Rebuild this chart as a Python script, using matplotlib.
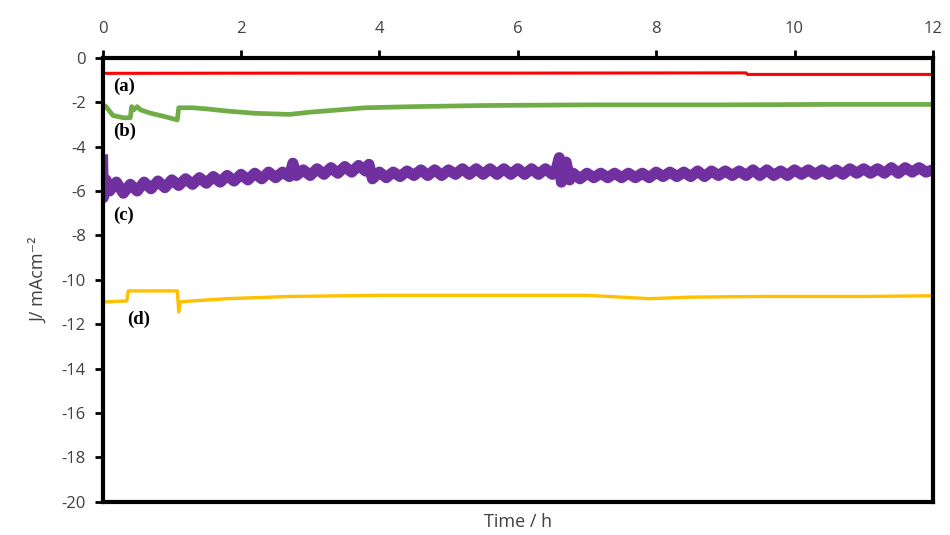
import matplotlib
matplotlib.use('Agg')
import matplotlib.pyplot as plt

plt.rcParams['font.family'] = ['Open Sans', 'DejaVu Sans']
plt.rcParams['axes.unicode_minus'] = False

# (a) red
red_t = [0.0, 3.0, 6.0, 9.3, 9.32, 12.0]
red_j = [-0.70, -0.69, -0.69, -0.68, -0.75, -0.75]

# (b) green
green_t = [0.0, 0.05, 0.15, 0.3, 0.4, 0.42, 0.45, 0.5, 0.55, 0.7, 0.9, 1.08, 1.1, 1.3, 1.5,
           1.8, 2.2, 2.7, 3.0, 3.4, 3.8, 4.5, 5.5, 7.0, 9.0, 10.5, 12.0]
green_j = [-2.1, -2.2, -2.6, -2.7, -2.7, -2.2, -2.35, -2.2, -2.35, -2.5, -2.65, -2.8, -2.25,
           -2.25, -2.3, -2.4, -2.5, -2.55, -2.45, -2.35, -2.25, -2.2, -2.15, -2.12, -2.12, -2.1, -2.1]

# (c) purple, noisy
purple_t = [0.0, 0.01, 0.05, 0.1, 0.2, 0.3, 0.4, 0.5, 0.6, 0.7, 0.8, 0.9, 1.0, 1.1, 1.2, 1.3,
            1.4, 1.5, 1.6, 1.7, 1.8, 1.9, 2.0, 2.1, 2.2, 2.3, 2.4, 2.5, 2.6, 2.7, 2.75, 2.8,
            2.9, 3.0, 3.1, 3.2, 3.3, 3.4, 3.5, 3.6, 3.7, 3.8, 3.85, 3.9, 4.0, 4.1, 4.2, 4.3,
            4.4, 4.5, 4.6, 4.7, 4.8, 4.9, 5.0, 5.1, 5.2, 5.3, 5.4, 5.5, 5.6, 5.7, 5.8, 5.9,
            6.0, 6.1, 6.2, 6.3, 6.4, 6.5, 6.55, 6.6, 6.63, 6.7, 6.75, 6.8, 6.9, 7.0, 7.1, 7.2,
            7.3, 7.4, 7.5, 7.6, 7.7, 7.8, 7.9, 8.0, 8.1, 8.2, 8.3, 8.4, 8.5, 8.6, 8.7, 8.8,
            8.9, 9.0, 9.1, 9.2, 9.3, 9.4, 9.5, 9.6, 9.7, 9.8, 9.9, 10.0, 10.1, 10.2, 10.3, 10.4,
            10.5, 10.6, 10.7, 10.8, 10.9, 11.0, 11.1, 11.2, 11.3, 11.4, 11.5, 11.6, 11.7, 11.8,
            11.9, 12.0]
purple_j = [-4.6, -6.3, -5.5, -6.0, -5.6, -6.1, -5.7, -6.0, -5.6, -5.9, -5.55, -5.85, -5.5, -5.75, -5.45, -5.7,
            -5.4, -5.65, -5.35, -5.6, -5.3, -5.55, -5.25, -5.5, -5.2, -5.45, -5.15, -5.4, -5.15, -5.35, -4.75, -5.3,
            -5.05, -5.3, -5.0, -5.25, -4.95, -5.2, -4.9, -5.15, -4.85, -5.1, -4.8, -5.45, -5.15, -5.4, -5.15, -5.35,
            -5.1, -5.3, -5.05, -5.3, -5.05, -5.3, -5.05, -5.25, -5.0, -5.25, -5.0, -5.25, -5.0, -5.25, -5.0, -5.25,
            -5.0, -5.25, -5.0, -5.25, -5.0, -5.25, -5.1, -4.5, -5.6, -4.7, -5.5, -5.2, -5.45, -5.2, -5.4, -5.2,
            -5.4, -5.2, -5.4, -5.2, -5.4, -5.2, -5.4, -5.15, -5.35, -5.15, -5.35, -5.15, -5.35, -5.1, -5.35, -5.1,
            -5.3, -5.1, -5.3, -5.1, -5.3, -5.05, -5.3, -5.05, -5.3, -5.1, -5.3, -5.05, -5.25, -5.05, -5.25, -5.05,
            -5.25, -5.05, -5.25, -5.0, -5.2, -5.0, -5.2, -5.0, -5.2, -4.95, -5.2, -4.95, -5.15, -4.95,
            -5.15, -5.05]

# (d) yellow
yellow_t = [0.0, 0.35, 0.37, 1.08, 1.1, 1.12, 1.3, 1.8, 2.7, 4.0, 5.5, 7.0, 7.5, 7.9, 8.5,
            9.5, 11.0, 12.0]
yellow_j = [-11.0, -10.95, -10.5, -10.5, -11.45, -11.0, -10.95, -10.85, -10.75, -10.7, -10.7,
            -10.7, -10.78, -10.85, -10.78, -10.75, -10.75, -10.72]

labels = ['(a)', '(b)', '(c)', '(d)']
label_t = [0.15, 0.15, 0.15, 0.35]
label_j = [-1.3, -3.3, -7.1, -11.8]

fig = plt.figure(figsize=(9.5, 5.35), dpi=100)
ax = fig.add_axes([0.108, 0.062, 0.874, 0.830])

ax.plot(red_t, red_j, color='#FF0000', lw=2.2)
ax.plot(green_t, green_j, color='#70AD47', lw=3.4)
ax.plot(purple_t, purple_j, color='#7030A0', lw=8)
ax.plot(yellow_t, yellow_j, color='#FFC000', lw=2.4)

for lab, tx, ty in zip(labels, label_t, label_j):
    ax.text(tx, ty, lab, fontsize=13.5, fontweight='bold', family='Liberation Serif',
            ha='left', va='center', color='black')

ax.set_xlim(0, 12)
ax.set_ylim(-20, 0)
ax.set_xticks(range(0, 13, 2))
ax.set_yticks(range(-20, 1, 2))
ax.xaxis.tick_top()
ax.xaxis.set_label_position('bottom')
ax.tick_params(axis='both', direction='out', length=6, width=2, colors='black',
               labelcolor='#404040', labelsize=12)
ax.tick_params(axis='x', pad=9)
ax.tick_params(axis='y', pad=6)
for s in ax.spines.values():
    s.set_linewidth(3)
    s.set_color('black')

ax.set_xlabel('Time / h', fontsize=13, color='#404040', labelpad=8)
ax.set_ylabel('J/ mAcm⁻²', fontsize=13, color='#404040', labelpad=10)

fig.savefig('out.png', dpi=100)
